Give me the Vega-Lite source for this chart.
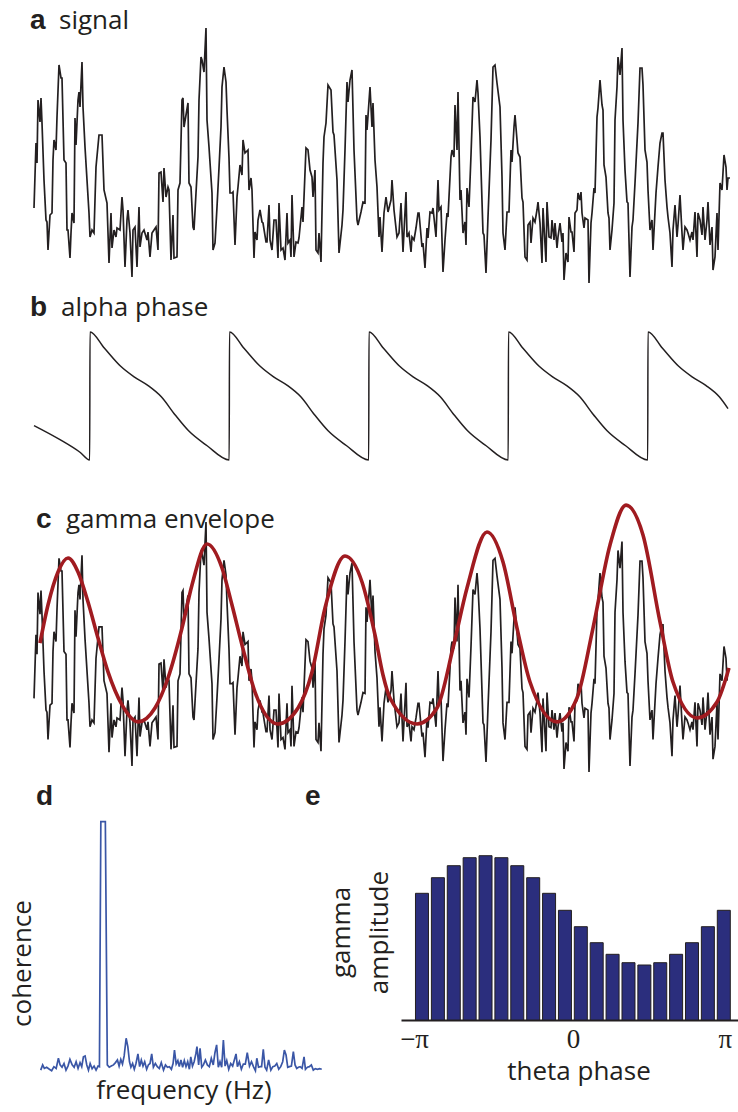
{
"$schema": "https://vega.github.io/schema/vega-lite/v6.json",
"padding": {"top": 0, "left": 0, "right": 0, "bottom": 6},
"background": "white",
"config": {"view": {"stroke": null}, "axis": {"grid": false}, "font": "Open Sans"},
"spacing": 0,
"bounds": "flush",
"datasets": {
"sig": [
{"t":34,"v":82},{"t":36,"v":147},{"t":37,"v":127},{"t":38,"v":190},{"t":40,"v":168},{"t":41,"v":192},{"t":42,"v":167},{"t":44,"v":110},{"t":46,"v":70},{"t":47,"v":68},{"t":48,"v":40},{"t":50,"v":75},{"t":52,"v":77},{"t":53,"v":130},{"t":54,"v":150},{"t":56,"v":140},{"t":57,"v":173},{"t":59,"v":225},{"t":61,"v":212},{"t":62,"v":212},{"t":64,"v":130},{"t":66,"v":127},{"t":67,"v":60},{"t":68,"v":60},{"t":70,"v":32},{"t":71,"v":57},{"t":72,"v":77},{"t":74,"v":67},{"t":75,"v":172},{"t":76,"v":145},{"t":78,"v":190},{"t":79,"v":198},{"t":80,"v":183},{"t":82,"v":228},{"t":83,"v":183},{"t":85,"v":143},{"t":87,"v":110},{"t":89,"v":77},{"t":90,"v":53},{"t":92,"v":60},{"t":94,"v":57},{"t":96,"v":123},{"t":99,"v":155},{"t":102,"v":155},{"t":104,"v":100},{"t":107,"v":87},{"t":109,"v":27},{"t":111,"v":77},{"t":112,"v":42},{"t":114,"v":60},{"t":116,"v":53},{"t":117,"v":62},{"t":120,"v":60},{"t":122,"v":93},{"t":123,"v":80},{"t":125,"v":23},{"t":127,"v":70},{"t":128,"v":80},{"t":130,"v":57},{"t":132,"v":13},{"t":133,"v":60},{"t":135,"v":63},{"t":137,"v":23},{"t":139,"v":83},{"t":140,"v":43},{"t":142,"v":57},{"t":144,"v":60},{"t":147,"v":50},{"t":148,"v":58},{"t":150,"v":33},{"t":152,"v":57},{"t":154,"v":60},{"t":156,"v":63},{"t":158,"v":40},{"t":159,"v":117},{"t":161,"v":118},{"t":163,"v":88},{"t":164,"v":122},{"t":166,"v":93},{"t":168,"v":103},{"t":169,"v":100},{"t":171,"v":30},{"t":173,"v":75},{"t":174,"v":32},{"t":177,"v":33},{"t":178,"v":100},{"t":180,"v":107},{"t":182,"v":190},{"t":183,"v":192},{"t":184,"v":163},{"t":186,"v":175},{"t":188,"v":187},{"t":189,"v":107},{"t":191,"v":103},{"t":193,"v":63},{"t":194,"v":60},{"t":196,"v":97},{"t":198,"v":133},{"t":199,"v":190},{"t":201,"v":233},{"t":202,"v":230},{"t":204,"v":218},{"t":206,"v":262},{"t":207,"v":170},{"t":209,"v":143},{"t":212,"v":97},{"t":213,"v":40},{"t":215,"v":47},{"t":217,"v":83},{"t":219,"v":122},{"t":221,"v":163},{"t":222,"v":203},{"t":224,"v":223},{"t":226,"v":208},{"t":227,"v":180},{"t":229,"v":132},{"t":230,"v":97},{"t":232,"v":97},{"t":233,"v":98},{"t":235,"v":45},{"t":237,"v":93},{"t":238,"v":103},{"t":240,"v":125},{"t":242,"v":115},{"t":243,"v":150},{"t":245,"v":137},{"t":248,"v":140},{"t":249,"v":100},{"t":251,"v":112},{"t":252,"v":100},{"t":254,"v":32},{"t":255,"v":58},{"t":257,"v":50},{"t":258,"v":70},
{"t":260,"v":80},{"t":262,"v":68},{"t":263,"v":67},{"t":266,"v":48},{"t":267,"v":48},{"t":269,"v":85},{"t":270,"v":50},{"t":272,"v":40},{"t":274,"v":70},{"t":276,"v":70},{"t":278,"v":32},{"t":279,"v":87},{"t":281,"v":40},{"t":283,"v":42},{"t":285,"v":30},{"t":287,"v":77},{"t":288,"v":47},{"t":290,"v":50},{"t":291,"v":33},{"t":292,"v":95},{"t":294,"v":33},{"t":296,"v":48},{"t":298,"v":47},{"t":299,"v":52},{"t":302,"v":83},{"t":303,"v":68},{"t":306,"v":142},{"t":308,"v":140},{"t":310,"v":120},{"t":312,"v":113},{"t":313,"v":93},{"t":315,"v":120},{"t":316,"v":40},{"t":318,"v":37},{"t":319,"v":57},{"t":321,"v":28},{"t":323,"v":127},{"t":324,"v":153},{"t":326,"v":167},{"t":328,"v":205},{"t":331,"v":200},{"t":333,"v":158},{"t":334,"v":155},{"t":337,"v":110},{"t":339,"v":37},{"t":342,"v":65},{"t":343,"v":80},{"t":345,"v":140},{"t":347,"v":208},{"t":348,"v":188},{"t":350,"v":210},{"t":352,"v":220},{"t":354,"v":140},{"t":357,"v":70},{"t":358,"v":65},{"t":361,"v":78},{"t":363,"v":88},{"t":365,"v":87},{"t":366,"v":175},{"t":367,"v":160},{"t":370,"v":203},{"t":372,"v":163},{"t":373,"v":187},{"t":375,"v":130},{"t":377,"v":103},{"t":379,"v":53},{"t":380,"v":73},{"t":382,"v":38},{"t":384,"v":77},{"t":386,"v":93},{"t":388,"v":78},{"t":391,"v":90},{"t":392,"v":110},{"t":394,"v":80},{"t":397,"v":53},{"t":399,"v":57},{"t":401,"v":87},{"t":403,"v":38},{"t":406,"v":98},{"t":407,"v":53},{"t":409,"v":57},{"t":411,"v":38},{"t":412,"v":53},{"t":414,"v":50},{"t":416,"v":62},{"t":418,"v":77},{"t":419,"v":77},{"t":422,"v":43},{"t":423,"v":47},{"t":425,"v":22},{"t":427,"v":62},{"t":428,"v":52},{"t":430,"v":78},{"t":432,"v":77},{"t":433,"v":82},{"t":436,"v":53},{"t":438,"v":110},{"t":439,"v":80},{"t":441,"v":83},{"t":443,"v":18},{"t":445,"v":50},{"t":447,"v":77},{"t":448,"v":73},{"t":451,"v":133},{"t":452,"v":140},{"t":454,"v":133},{"t":455,"v":185},{"t":457,"v":140},{"t":458,"v":198},{"t":460,"v":90},{"t":461,"v":100},{"t":463,"v":57},{"t":465,"v":68},{"t":466,"v":45},{"t":467,"v":102},{"t":469,"v":83},{"t":471,"v":135},{"t":473,"v":193},{"t":475,"v":188},{"t":477,"v":210},{"t":478,"v":197},{"t":480,"v":153},{"t":483,"v":57},{"t":484,"v":55},{"t":486,"v":17},{"t":488,"v":73},{"t":491,"v":150},{"t":493,"v":223},{"t":495,"v":225},{"t":497,"v":207},{"t":500,"v":183},
{"t":502,"v":113},{"t":503,"v":57},{"t":505,"v":40},{"t":507,"v":78},{"t":509,"v":78},{"t":511,"v":140},{"t":512,"v":128},{"t":514,"v":163},{"t":515,"v":175},{"t":517,"v":150},{"t":518,"v":137},{"t":520,"v":133},{"t":522,"v":92},{"t":523,"v":88},{"t":525,"v":33},{"t":527,"v":30},{"t":528,"v":65},{"t":530,"v":68},{"t":531,"v":47},{"t":533,"v":72},{"t":535,"v":68},{"t":537,"v":80},{"t":538,"v":88},{"t":540,"v":67},{"t":542,"v":27},{"t":543,"v":82},{"t":546,"v":28},{"t":547,"v":88},{"t":549,"v":53},{"t":551,"v":52},{"t":552,"v":70},{"t":554,"v":50},{"t":555,"v":67},{"t":557,"v":42},{"t":558,"v":53},{"t":560,"v":67},{"t":562,"v":48},{"t":563,"v":57},{"t":564,"v":10},{"t":566,"v":37},{"t":568,"v":28},{"t":569,"v":73},{"t":571,"v":58},{"t":572,"v":58},{"t":574,"v":38},{"t":575,"v":77},{"t":577,"v":80},{"t":578,"v":97},{"t":580,"v":90},{"t":581,"v":98},{"t":582,"v":77},{"t":584,"v":62},{"t":585,"v":72},{"t":588,"v":70},{"t":589,"v":7},{"t":591,"v":67},{"t":592,"v":77},{"t":594,"v":102},{"t":595,"v":97},{"t":597,"v":173},{"t":598,"v":182},{"t":600,"v":210},{"t":602,"v":185},{"t":603,"v":180},{"t":604,"v":125},{"t":606,"v":113},{"t":608,"v":77},{"t":609,"v":72},{"t":610,"v":40},{"t":612,"v":60},{"t":614,"v":87},{"t":615,"v":170},{"t":617,"v":203},{"t":618,"v":233},{"t":620,"v":215},{"t":622,"v":242},{"t":623,"v":170},{"t":625,"v":120},{"t":627,"v":88},{"t":628,"v":87},{"t":630,"v":13},{"t":632,"v":63},{"t":633,"v":70},{"t":635,"v":107},{"t":637,"v":147},{"t":638,"v":167},{"t":640,"v":222},{"t":642,"v":222},{"t":643,"v":205},{"t":645,"v":140},{"t":647,"v":128},{"t":648,"v":100},{"t":650,"v":60},{"t":652,"v":70},{"t":653,"v":40},{"t":656,"v":97},{"t":658,"v":123},{"t":660,"v":147},{"t":662,"v":157},{"t":663,"v":157},{"t":665,"v":110},{"t":667,"v":83},{"t":668,"v":73},{"t":670,"v":57},{"t":672,"v":23},{"t":673,"v":60},{"t":675,"v":85},{"t":677,"v":53},{"t":678,"v":65},{"t":680,"v":95},{"t":682,"v":57},{"t":683,"v":40},{"t":685,"v":63},{"t":687,"v":60},{"t":688,"v":57},{"t":690,"v":50},{"t":692,"v":58},{"t":693,"v":50},{"t":695,"v":78},{"t":697,"v":33},{"t":698,"v":77},{"t":700,"v":70},{"t":702,"v":55},{"t":703,"v":83},{"t":705,"v":50},{"t":707,"v":70},{"t":708,"v":88},{"t":710,"v":45},{"t":712,"v":63},{"t":713,"v":20},{"t":715,"v":33},{"t":717,"v":77},{"t":718,"v":40},{"t":720,"v":107},{"t":722,"v":100},{"t":724,"v":135},{"t":726,"v":123},{"t":727,"v":100},{"t":728,"v":112},{"t":730,"v":112}
],
"saw": [
{"t":34,"p":-1.45},{"t":60,"p":-2.14},{"t":80,"p":-2.76},{"t":89.7,"p":-3.14},
{"t":90,"p":3.14},{"t":104.5,"p":2.34},{"t":120.4,"p":1.47},{"t":134.1,"p":0.94},{"t":147.8,"p":0.52},{"t":161.3,"p":-0.04},{"t":175,"p":-0.92},{"t":188.6,"p":-1.71},{"t":206.8,"p":-2.43},{"t":229.2,"p":-3.14},
{"t":229.5,"p":3.14},{"t":244,"p":2.34},{"t":259.9,"p":1.47},{"t":273.6,"p":0.94},{"t":287.3,"p":0.52},{"t":300.8,"p":-0.04},{"t":314.5,"p":-0.92},{"t":328.1,"p":-1.71},{"t":346.3,"p":-2.43},{"t":368.7,"p":-3.14},
{"t":369,"p":3.14},{"t":383.5,"p":2.34},{"t":399.4,"p":1.47},{"t":413.1,"p":0.94},{"t":426.8,"p":0.52},{"t":440.3,"p":-0.04},{"t":454,"p":-0.92},{"t":467.6,"p":-1.71},{"t":485.8,"p":-2.43},{"t":508.2,"p":-3.14},
{"t":508.5,"p":3.14},{"t":523,"p":2.34},{"t":538.9,"p":1.47},{"t":552.6,"p":0.94},{"t":566.3,"p":0.52},{"t":579.8,"p":-0.04},{"t":593.5,"p":-0.92},{"t":607.1,"p":-1.71},{"t":625.3,"p":-2.43},{"t":647.7,"p":-3.14},
{"t":648,"p":3.14},{"t":662.5,"p":2.34},{"t":678.4,"p":1.47},{"t":692.1,"p":0.94},{"t":705.8,"p":0.52},{"t":719.3,"p":-0.04},{"t":728,"p":-0.62}
],
"env": [
{"t":40,"v":138.5},{"t":48,"v":177.3},{"t":58,"v":211},{"t":68,"v":225.3},{"t":78,"v":211},{"t":88,"v":180.4},{"t":98,"v":143.6},{"t":108,"v":109},{"t":122,"v":75.3},{"t":138,"v":58},{"t":155,"v":72.2},{"t":168,"v":102.8},{"t":182,"v":153.8},{"t":192,"v":197.7},{"t":207,"v":239.6},{"t":222,"v":215.1},{"t":232,"v":177.3},{"t":242,"v":136.5},{"t":255,"v":88.5},{"t":278,"v":55.9},{"t":298,"v":72.2},{"t":312,"v":109},{"t":325,"v":174.2},{"t":345,"v":227.3},{"t":362,"v":200.8},{"t":375,"v":146.7},{"t":383,"v":105.9},{"t":390,"v":82.4},{"t":417,"v":55.9},{"t":437,"v":72.2},{"t":453,"v":133.4},{"t":467,"v":194.7},{"t":487,"v":251.8},{"t":503,"v":221.2},{"t":517,"v":153.8},{"t":530,"v":98.7},{"t":557,"v":58},{"t":577,"v":82.4},{"t":593,"v":153.8},{"t":610,"v":238.5},{"t":626,"v":279.3},{"t":643,"v":248.7},{"t":660,"v":160},{"t":673,"v":98.7},{"t":697,"v":62},{"t":717,"v":78.3},{"t":729,"v":113}
],
"coh": [
{"f":0,"c":0.034},{"f":0.7,"c":0.052},{"f":1.3,"c":0.040},{"f":2.1,"c":0.044},{"f":3.1,"c":0.037},{"f":3.9,"c":0.032},{"f":4.7,"c":0.046},{"f":5.5,"c":0.040},{"f":6.3,"c":0.075},{"f":6.9,"c":0.052},{"f":7.6,"c":0.044},{"f":8.3,"c":0.057},{"f":9.0,"c":0.034},{"f":9.7,"c":0.048},{"f":10.4,"c":0.071},{"f":11.2,"c":0.052},{"f":11.9,"c":0.044},{"f":12.6,"c":0.063},{"f":13.3,"c":0.040},{"f":14.0,"c":0.060},{"f":14.6,"c":0.046},{"f":15.2,"c":0.080},{"f":15.8,"c":0.083},{"f":16.4,"c":0.052},{"f":17.0,"c":0.034},{"f":17.6,"c":0.057},{"f":18.3,"c":0.039},{"f":19.0,"c":0.048},{"f":19.7,"c":0.034},{"f":20.4,"c":0.048},{"f":20.9,"c":0.046},{"f":21.4,"c":0.891},{"f":23.0,"c":0.891},{"f":23.7,"c":0.052},{"f":24.4,"c":0.044},{"f":25.1,"c":0.048},{"f":25.9,"c":0.052},{"f":26.6,"c":0.060},{"f":27.3,"c":0.069},{"f":27.9,"c":0.048},{"f":28.5,"c":0.071},{"f":29.1,"c":0.055},{"f":29.7,"c":0.083},{"f":30.4,"c":0.144},{"f":31.0,"c":0.115},{"f":31.6,"c":0.063},{"f":32.1,"c":0.044},{"f":32.7,"c":0.057},{"f":33.3,"c":0.037},{"f":33.9,"c":0.057},{"f":34.6,"c":0.090},{"f":35.2,"c":0.046},{"f":35.8,"c":0.069},{"f":36.4,"c":0.048},{"f":37.0,"c":0.063},{"f":37.7,"c":0.037},{"f":38.3,"c":0.052},{"f":38.9,"c":0.057},{"f":39.5,"c":0.090},{"f":40.1,"c":0.044},{"f":40.8,"c":0.057},{"f":41.5,"c":0.046},{"f":42.2,"c":0.040},{"f":42.9,"c":0.060},{"f":43.7,"c":0.034},{"f":44.4,"c":0.052},{"f":45.1,"c":0.044},{"f":45.8,"c":0.046},{"f":46.5,"c":0.037},{"f":47.1,"c":0.057},{"f":47.6,"c":0.103},{"f":48.2,"c":0.055},{"f":48.8,"c":0.067},{"f":49.3,"c":0.046},{"f":49.9,"c":0.069},{"f":50.5,"c":0.044},{"f":51.1,"c":0.067},{"f":51.7,"c":0.046},{"f":52.3,"c":0.063},{"f":52.9,"c":0.037},{"f":53.4,"c":0.080},{"f":54.0,"c":0.048},{"f":54.6,"c":0.063},{"f":55.2,"c":0.090},{"f":55.6,"c":0.115},{"f":56.2,"c":0.052},{"f":56.7,"c":0.109},{"f":57.3,"c":0.044},{"f":57.9,"c":0.052},{"f":58.6,"c":0.069},{"f":59.3,"c":0.052},{"f":60.0,"c":0.046},{"f":60.7,"c":0.075},{"f":61.4,"c":0.052},{"f":62.0,"c":0.094},{"f":62.6,"c":0.121},{"f":63.2,"c":0.044},{"f":63.8,"c":0.063},{"f":64.4,"c":0.044},{"f":65.0,"c":0.138},{"f":65.6,"c":0.048},{"f":66.2,"c":0.067},{"f":66.9,"c":0.037},{"f":67.6,"c":0.057},{"f":68.3,"c":0.048},{"f":68.9,"c":0.069},{"f":69.5,"c":0.090},{"f":70.0,"c":0.046},{"f":70.7,"c":0.063},{"f":71.4,"c":0.037},{"f":72.1,"c":0.055},{"f":72.8,"c":0.055},{"f":73.5,"c":0.094},{"f":74.3,"c":0.048},{"f":75.0,"c":0.063},{"f":75.7,"c":0.046},{"f":76.4,"c":0.032},{"f":76.9,"c":0.075},{"f":77.5,"c":0.044},{"f":78.1,"c":0.046},{"f":78.6,"c":0.046},{"f":79.2,"c":0.106},{"f":79.8,"c":0.044},{"f":80.4,"c":0.034},{"f":81.1,"c":0.069},{"f":81.9,"c":0.034},{"f":82.6,"c":0.046},{"f":83.3,"c":0.048},{"f":84.0,"c":0.057},{"f":84.7,"c":0.037},{"f":85.4,"c":0.046},{"f":86.1,"c":0.063},{"f":86.7,"c":0.103},{"f":87.3,"c":0.086},{"f":87.9,"c":0.044},{"f":88.5,"c":0.046},{"f":89.2,"c":0.048},{"f":89.9,"c":0.098},{"f":90.5,"c":0.052},{"f":91.1,"c":0.040},{"f":91.7,"c":0.044},{"f":92.3,"c":0.046},{"f":93.0,"c":0.040},{"f":93.7,"c":0.080},{"f":94.2,"c":0.037},{"f":94.9,"c":0.044},{"f":95.6,"c":0.046},{"f":96.3,"c":0.052},{"f":97.0,"c":0.034},{"f":97.7,"c":0.039},{"f":98.5,"c":0.037},{"f":99.2,"c":0.039},{"f":100,"c":0.037}
],
"bars": [
{"phase":-2.985,"amp":1.267},{"phase":-2.670,"amp":1.423},{"phase":-2.356,"amp":1.543},{"phase":-2.042,"amp":1.623},{"phase":-1.728,"amp":1.643},{"phase":-1.414,"amp":1.623},{"phase":-1.100,"amp":1.543},{"phase":-0.785,"amp":1.423},{"phase":-0.471,"amp":1.267},{"phase":-0.157,"amp":1.097},{"phase":0.157,"amp":0.933},{"phase":0.471,"amp":0.773},{"phase":0.785,"amp":0.657},{"phase":1.100,"amp":0.573},{"phase":1.414,"amp":0.550},{"phase":1.728,"amp":0.573},{"phase":2.042,"amp":0.657},{"phase":2.356,"amp":0.773},{"phase":2.670,"amp":0.933},{"phase":2.985,"amp":1.097}
]
},
"vconcat": [
{
"width": 738, "height": 295,
"layer": [
{"data": {"name": "sig"}, "mark": {"type": "line", "color": "#231f20", "strokeWidth": 1.7},
 "encoding": {"x": {"field": "t", "type": "quantitative", "scale": {"domain": [0, 738], "nice": false, "zero": false}, "axis": null},
              "y": {"field": "v", "type": "quantitative", "scale": {"domain": [-5, 290], "nice": false, "zero": false}, "axis": null}}},
{"data": {"values": [{}]}, "mark": {"type": "text", "text": "a", "font": "Liberation Sans", "fontWeight": "bold", "fontSize": 28, "align": "left", "baseline": "alphabetic", "color": "#231f20"},
 "encoding": {"x": {"datum": 30, "type": "quantitative"}, "y": {"datum": 261, "type": "quantitative"}}},
{"data": {"values": [{}]}, "mark": {"type": "text", "text": "signal", "font": "Open Sans", "fontSize": 26, "align": "left", "baseline": "alphabetic", "color": "#231f20"},
 "encoding": {"x": {"datum": 59, "type": "quantitative"}, "y": {"datum": 261, "type": "quantitative"}}}
]
},
{
"width": 738, "height": 185,
"layer": [
{"data": {"name": "saw"}, "mark": {"type": "line", "color": "#231f20", "strokeWidth": 1.5, "interpolate": "monotone"},
 "encoding": {"x": {"field": "t", "type": "quantitative", "scale": {"domain": [0, 738], "nice": false, "zero": false}, "axis": null},
              "y": {"field": "p", "type": "quantitative", "scale": {"domain": [-4.123, 4.958], "nice": false, "zero": false}, "axis": null}}},
{"data": {"values": [{}]}, "mark": {"type": "text", "text": "b", "font": "Liberation Sans", "fontWeight": "bold", "fontSize": 28, "align": "left", "baseline": "alphabetic", "color": "#231f20"},
 "encoding": {"x": {"datum": 30, "type": "quantitative"}, "y": {"datum": 3.927, "type": "quantitative"}}},
{"data": {"values": [{}]}, "mark": {"type": "text", "text": "alpha phase", "font": "Open Sans", "fontSize": 26, "align": "left", "baseline": "alphabetic", "color": "#231f20"},
 "encoding": {"x": {"datum": 61, "type": "quantitative"}, "y": {"datum": 3.927, "type": "quantitative"}}}
]
},
{
"width": 738, "height": 310,
"layer": [
{"data": {"name": "sig"}, "mark": {"type": "line", "color": "#231f20", "strokeWidth": 1.7},
 "encoding": {"x": {"field": "t", "type": "quantitative", "scale": {"domain": [0, 738], "nice": false, "zero": false}, "axis": null},
              "y": {"field": "v", "type": "quantitative", "scale": {"domain": [-11.5, 304.9], "nice": false, "zero": false}, "axis": null}}},
{"data": {"name": "env"}, "mark": {"type": "line", "color": "#a01b20", "strokeWidth": 3.6, "interpolate": "monotone"},
 "encoding": {"x": {"field": "t", "type": "quantitative"}, "y": {"field": "v", "type": "quantitative"}}},
{"data": {"values": [{}]}, "mark": {"type": "text", "text": "c", "font": "Liberation Sans", "fontWeight": "bold", "fontSize": 28, "align": "left", "baseline": "alphabetic", "color": "#231f20"},
 "encoding": {"x": {"datum": 36, "type": "quantitative"}, "y": {"datum": 255.6, "type": "quantitative"}}},
{"data": {"values": [{}]}, "mark": {"type": "text", "text": "gamma envelope", "font": "Open Sans", "fontSize": 26, "align": "left", "baseline": "alphabetic", "color": "#231f20"},
 "encoding": {"x": {"datum": 66, "type": "quantitative"}, "y": {"datum": 255.6, "type": "quantitative"}}}
]
},
{
"hconcat": [
{
"width": 401, "height": 290,
"layer": [
{"data": {"name": "coh"}, "mark": {"type": "line", "color": "#3a56a6", "strokeWidth": 1.7},
 "encoding": {"x": {"field": "f", "type": "quantitative", "scale": {"domain": [-14.48, 128.2], "nice": false, "zero": false},
   "axis": {"title": "frequency (Hz)", "domain": false, "ticks": false, "labels": false, "grid": false, "titleFont": "Open Sans", "titleFontSize": 26, "titleFontWeight": "normal", "titleColor": "#231f20", "titleX": 183.5, "titleY": 18, "titleBaseline": "alphabetic", "titleAlign": "center"}},
  "y": {"field": "c", "type": "quantitative", "scale": {"domain": [0, 1], "nice": false, "zero": false},
   "axis": {"title": "coherence", "domain": false, "ticks": false, "labels": false, "grid": false, "titleFont": "Open Sans", "titleFontSize": 26, "titleFontWeight": "normal", "titleColor": "#231f20", "titleX": 30, "titleY": 173, "titleAngle": -90, "titleBaseline": "alphabetic", "titleAlign": "center"}}}},
{"data": {"values": [{}]}, "mark": {"type": "text", "text": "d", "font": "Liberation Sans", "fontWeight": "bold", "fontSize": 28, "align": "left", "baseline": "alphabetic", "color": "#231f20"},
 "encoding": {"x": {"datum": -1.67, "type": "quantitative"}, "y": {"datum": 0.948, "type": "quantitative"}}},
{"data": {"values": [{}]}, "mark": {"type": "text", "text": "e", "font": "Liberation Sans", "fontWeight": "bold", "fontSize": 28, "align": "left", "baseline": "alphabetic", "color": "#231f20"},
 "encoding": {"x": {"datum": 94.06, "type": "quantitative"}, "y": {"datum": 0.948, "type": "quantitative"}}}
]
},
{
"width": 337, "height": 230,
"data": {"name": "bars"},
"mark": {"type": "bar", "width": 13, "fill": "#2b2e7d", "stroke": "#231f20", "strokeWidth": 1},
"encoding": {
 "x": {"field": "phase", "type": "quantitative", "scale": {"domain": [-3.301, 3.167], "nice": false, "zero": false},
  "axis": {"values": [-3.14159, 0, 3.14159], "labelExpr": "datum.value < -1 ? '−π' : (datum.value > 1 ? 'π' : '0')", "labelFont": "Liberation Serif", "labelFontSize": 27, "labelColor": "#231f20", "labelPadding": 27, "labelBaseline": "alphabetic", "labelFlush": false, "labelOverlap": false, "labelAlign": {"condition": {"test": "datum.value > 1", "value": "right"}, "value": "center"}, "ticks": false, "tickSize": 0, "domainColor": "#231f20", "domainWidth": 2, "grid": false,
   "title": "theta phase", "titleFont": "Open Sans", "titleFontSize": 26, "titleFontWeight": "normal", "titleColor": "#231f20", "titleX": 177.5, "titleY": 59, "titleBaseline": "alphabetic", "titleAlign": "center"}},
 "y": {"field": "amp", "type": "quantitative", "scale": {"domain": [0, 2.3], "nice": false, "zero": false},
  "axis": {"title": ["gamma", "amplitude"], "domain": false, "ticks": false, "labels": false, "grid": false, "titleFont": "Open Sans", "titleFontSize": 26, "titleFontWeight": "normal", "titleColor": "#231f20", "titleX": -52, "titleY": 142, "titleAngle": -90, "titleBaseline": "alphabetic", "titleAlign": "center", "titleLineHeight": 38}}
}
}
],
"spacing": 0,
"bounds": "flush"
}
]
}
